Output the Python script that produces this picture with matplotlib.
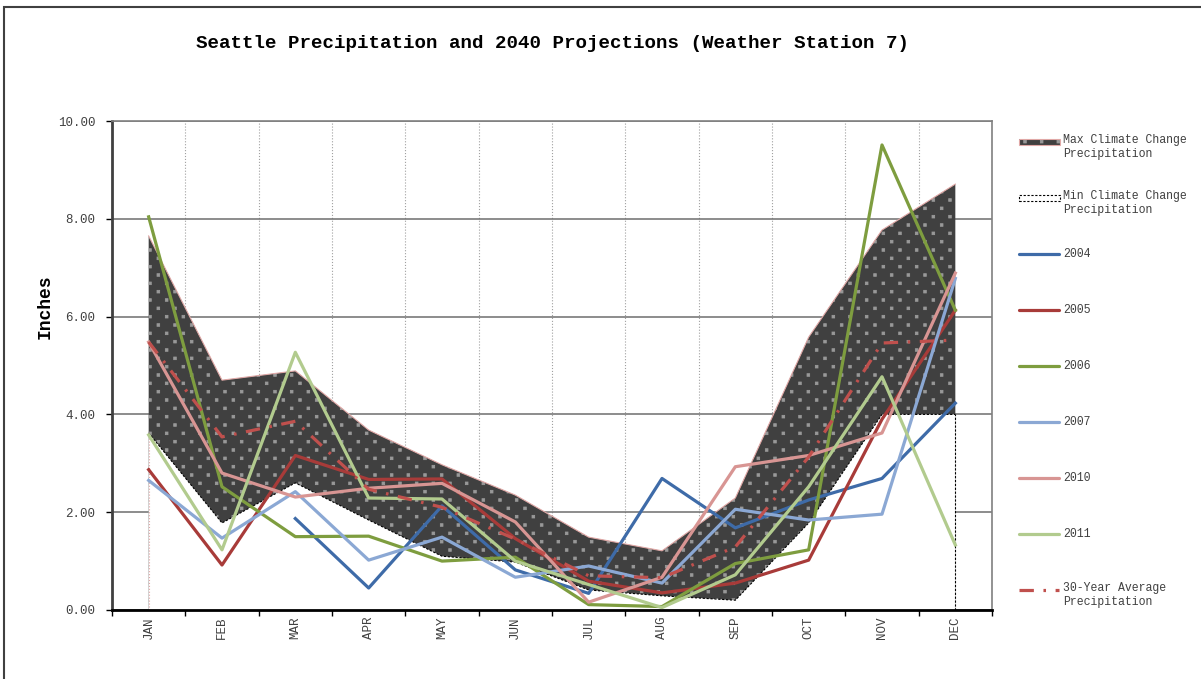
import numpy as np
import matplotlib
matplotlib.use('Agg')
import matplotlib.pyplot as plt
import matplotlib.hatch as mhatch
from matplotlib.path import Path
from matplotlib.lines import Line2D
from matplotlib.patches import Rectangle

nan = np.nan

months = ['JAN', 'FEB', 'MAR', 'APR', 'MAY', 'JUN',
          'JUL', 'AUG', 'SEP', 'OCT', 'NOV', 'DEC']

# climate change band (inches)
max_cc = [7.65, 4.70, 4.89, 3.68, 2.97, 2.35, 1.49, 1.21, 2.29, 5.58, 7.77, 8.71]
min_cc = [3.62, 1.78, 2.60, 1.84, 1.10, 0.98, 0.41, 0.29, 0.20, 1.78, 4.00, 4.00]

# yearly series
p2004 = [nan, nan, 1.87, 0.45, 2.13, 0.82, 0.34, 2.69, 1.68, 2.25, 2.69, 4.23]
p2005 = [2.87, 0.92, 3.16, 2.67, 2.68, 1.46, 0.59, 0.35, 0.55, 1.02, 3.90, 6.13]
p2006 = [8.04, 2.52, 1.50, 1.51, 1.00, 1.08, 0.11, 0.07, 0.95, 1.23, 9.51, 6.13]
p2007 = [2.65, 1.47, 2.42, 1.02, 1.49, 0.67, 0.90, 0.55, 2.06, 1.84, 1.96, 6.78]
p2010 = [5.48, 2.80, 2.31, 2.49, 2.59, 1.80, 0.16, 0.67, 2.93, 3.16, 3.62, 6.89]
p2011 = [3.58, 1.23, 5.27, 2.29, 2.27, 1.00, 0.52, 0.05, 0.72, 2.52, 4.77, 1.33]
avg30 = [5.48, 3.54, 3.86, 2.47, 2.10, 1.45, 0.70, 0.66, 1.29, 3.13, 5.46, 5.52]

years = ['2004', '2005', '2006', '2007', '2010', '2011']
series = [p2004, p2005, p2006, p2007, p2010, p2011]
colors = ['#3e6ba8', '#a83b39', '#7e9d3f', '#8ba8d4', '#d89593', '#b2cb8e']
avg_color = '#c0504d'
band_face = '#404040'
band_dots = '#999999'
band_edge = '#e0a8a6'


# square dot hatch like the office pattern fill
class SquareDots(mhatch.HatchPatternBase):
    def __init__(self, hatch, density):
        n = hatch.count('.')
        self.pts = []
        if n:
            rows = 12
            cols = 6
            for r in range(rows + 1):
                off = 0.0 if r % 2 == 0 else 0.5
                for c in range(cols + 1):
                    self.pts.append(((c + off) / cols, r / rows))
        self.num_vertices = len(self.pts) * 5

    def set_vertices_and_codes(self, vertices, codes):
        h = 0.013
        for i, (x, y) in enumerate(self.pts):
            vertices[i*5:i*5+5] = [(x-h, y-h), (x+h, y-h), (x+h, y+h), (x-h, y+h), (x-h, y-h)]
            codes[i*5:i*5+5] = [Path.MOVETO, Path.LINETO, Path.LINETO, Path.LINETO, Path.CLOSEPOLY]


mhatch._hatch_types = [SquareDots if t is mhatch.SmallFilledCircles else t
                       for t in mhatch._hatch_types]

plt.rcParams['font.family'] = ['Liberation Mono', 'DejaVu Sans Mono']
plt.rcParams['hatch.linewidth'] = 0.6

W, H = 1201, 679
fig = plt.figure(figsize=(W/100, H/100), dpi=100)
ax = fig.add_axes([112/W, 1 - 610/H, 880/W, 489/H])

x = np.arange(len(months))

# max area (dark dotted) then min area (white) on top of it
ax.fill_between(x, 0, max_cc, facecolor=band_face, edgecolor=band_dots,
                linewidth=0, hatch='.', zorder=1)
ax.plot(x, max_cc, color=band_edge, lw=0.8, zorder=1.1)
ax.fill_between(x, 0, min_cc, facecolor='white', linewidth=0, zorder=1.2)
ax.plot(x, min_cc, color='black', lw=0.8, ls=(0, (2, 1.5)), zorder=1.3)
ax.vlines(x[-1], 0, min_cc[-1], color='black', lw=0.8, ls=(0, (2, 1.5)), zorder=1.3)
ax.vlines(x[0], 0, min_cc[0], color=band_edge, lw=0.8, ls=':', zorder=1.3)

for vals, col in zip(series, colors):
    ax.plot(x, vals, color=col, lw=2.3, zorder=3)
ax.plot(x, avg30, color=avg_color, lw=2.3, ls=(0, (4.5, 3, 0.8, 3)), zorder=3.5)

ax.set_xlim(-0.5, 11.5)
ax.set_ylim(0, 10)
ax.set_yticks(np.arange(0, 10.1, 2))
ax.set_yticklabels(['%.2f' % v for v in np.arange(0, 10.1, 2)])
ax.set_xticks(np.arange(-0.5, 12, 1))
ax.set_xticklabels([])
ax.set_xticks(x, minor=True)
ax.set_xticklabels(months, minor=True, rotation=90, fontsize=9, color='#404040')
ax.tick_params(axis='x', which='minor', length=0, pad=5)
ax.tick_params(axis='x', which='major', length=4, width=1, color='black', direction='out')
ax.tick_params(axis='y', length=4, width=1, pad=8, labelsize=9, labelcolor='#404040')

ax.set_axisbelow(True)
ax.yaxis.grid(True, color='#6e6e6e', lw=1.1)
ax.xaxis.grid(True, which='major', color='#a0a0a0', lw=0.8, ls=':')

for s in ['top', 'right']:
    ax.spines[s].set_color('#808080')
    ax.spines[s].set_linewidth(1.2)
ax.spines['left'].set_color('#404040')
ax.spines['left'].set_linewidth(2)
ax.spines['bottom'].set_color('black')
ax.spines['bottom'].set_linewidth(2)

fig.text(552/W, 1 - 43/H, 'Seattle Precipitation and 2040 Projections (Weather Station 7)',
         ha='center', va='center', fontsize=13.8, fontweight='bold')
fig.text(45/W, 1 - 307/H, 'Inches', rotation=90, ha='center', va='center',
         fontsize=13, fontweight='bold')

# outer chart frame
fig.add_artist(Rectangle((4/W, -0.1), 1.2, 1.1 - 7/H, transform=fig.transFigure,
                         facecolor='none', edgecolor='#404040', lw=1.5))


# legend, drawn by hand to keep the even spacing of the original
def fx(px):
    return px / W


def fy(py):
    return 1 - py / H


labels = ['Max Climate Change\nPrecipitation', 'Min Climate Change\nPrecipitation'] + \
         years + ['30-Year Average\nPrecipitation']
y0, dy = 142, 56
for i, lab in enumerate(labels):
    yy = y0 + i * dy
    if i == 0:
        fig.add_artist(Rectangle((fx(1019), fy(yy + 3)), 41/W, 6/H, transform=fig.transFigure,
                                 facecolor=band_face, edgecolor=band_dots, lw=0, hatch='.'))
        fig.add_artist(Rectangle((fx(1019), fy(yy + 3)), 41/W, 6/H, transform=fig.transFigure,
                                 facecolor='none', edgecolor=band_edge, lw=0.8))
    elif i == 1:
        fig.add_artist(Rectangle((fx(1019), fy(yy + 3)), 41/W, 6/H, transform=fig.transFigure,
                                 facecolor='white', edgecolor='black', lw=0.8, ls=(0, (2, 1.5))))
    elif i < 8:
        fig.add_artist(Line2D([fx(1019), fx(1059)], [fy(yy), fy(yy)], transform=fig.transFigure,
                              color=colors[i - 2], lw=2.3, solid_capstyle='round'))
    else:
        fig.add_artist(Line2D([fx(1019), fx(1059)], [fy(yy), fy(yy)], transform=fig.transFigure,
                              color=avg_color, lw=2.3, ls=(0, (4.5, 3, 0.8, 3))))
    if '\n' in lab:
        fig.text(fx(1063), fy(yy - 8), lab, ha='left', va='top', fontsize=8.3,
                 color='#404040', linespacing=1.25)
    else:
        fig.text(fx(1063), fy(yy), lab, ha='left', va='center', fontsize=8.3, color='#404040')

fig.savefig('out.png', dpi=100)
